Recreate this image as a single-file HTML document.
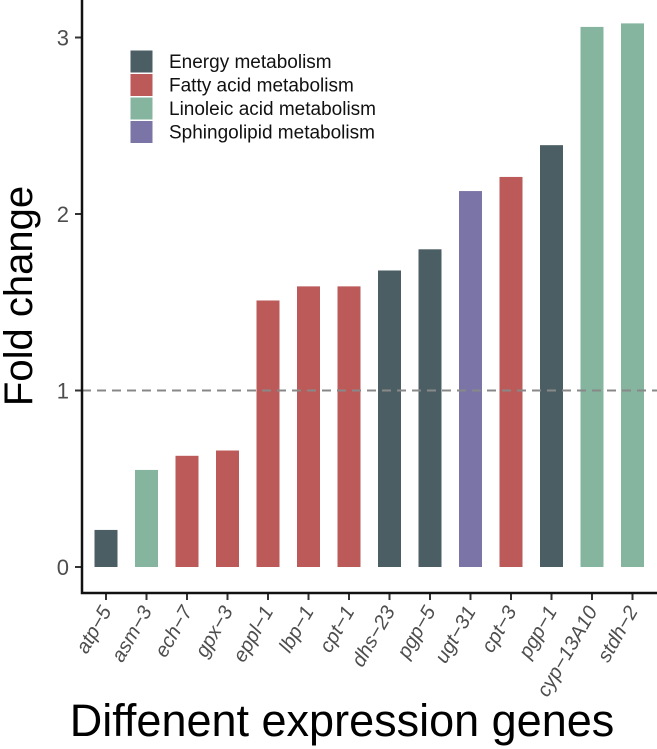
<!DOCTYPE html>
<html><head><meta charset="utf-8"><style>
body{margin:0;background:#fff}
svg{display:block;font-family:"Liberation Sans",sans-serif}
</style></head><body>
<svg id="chart" width="657" height="749"></svg>
<script>
const genes=["atp−5","asm−3","ech−7","gpx−3","eppl−1","lbp−1","cpt−1","dhs−23","pgp−5","ugt−31","cpt−3","pgp−1","cyp−13A10","stdh−2"];
const values=[0.21,0.55,0.63,0.66,1.51,1.59,1.59,1.68,1.80,2.13,2.21,2.39,3.06,3.08];
const groups=["Energy metabolism","Linoleic acid metabolism","Fatty acid metabolism","Fatty acid metabolism","Fatty acid metabolism","Fatty acid metabolism","Fatty acid metabolism","Energy metabolism","Energy metabolism","Sphingolipid metabolism","Fatty acid metabolism","Energy metabolism","Linoleic acid metabolism","Linoleic acid metabolism"];
const legendLabels=["Energy metabolism","Fatty acid metabolism","Linoleic acid metabolism","Sphingolipid metabolism"];
const yTicks=[0,1,2,3];
const colors={"Energy metabolism":"#4b5e64","Fatty acid metabolism":"#bb5a59","Linoleic acid metabolism":"#86b59f","Sphingolipid metabolism":"#7a75a6"};
const NS="http://www.w3.org/2000/svg";
const svg=document.getElementById('chart');
const y=v=>567-v*176.5;
const x=i=>106+i*40.5;
function mk(t,a,txt){const e=document.createElementNS(NS,t);for(const k in a)e.setAttribute(k,a[k]);if(txt!=null)e.textContent=txt;svg.appendChild(e);return e;}
values.forEach((v,i)=>{
 const r=mk('rect',{x:x(i)-11.5,y:y(v),width:23,height:y(0)-y(v),fill:colors[groups[i]]});
 
 
 const tk=mk('line',{x1:x(i),x2:x(i),y1:593,y2:600,stroke:'#333','stroke-width':2});
 
 
 const ax=x(i)+6, ay=611;
 const t=mk('text',{x:ax,y:ay,'text-anchor':'end','font-size':20,'font-style':'italic',fill:'#4d4d4d',transform:`rotate(-60 ${ax} ${ay})`},genes[i]);
 
 
});
const ref=mk('line',{x1:82,x2:657,y1:y(1),y2:y(1),stroke:'#888','stroke-width':2,'stroke-dasharray':'9,6'});


yTicks.forEach(v=>{
 const tk=mk('line',{x1:75,x2:82,y1:y(v),y2:y(v),stroke:'#333','stroke-width':2});
 
 
 const t=mk('text',{x:69,y:y(v)+8,'text-anchor':'end','font-size':22,fill:'#4d4d4d'},v);
 
 
});
const ax=mk('path',{d:'M82,0 V593 H657',fill:'none',stroke:'#111','stroke-width':2.5});


legendLabels.forEach((l,i)=>{
 const ry=50+i*23.5;
 const r=mk('rect',{x:130,y:ry,width:23,height:23,fill:colors[l],stroke:'#fff','stroke-width':1});
 
 
 const t=mk('text',{x:169,y:ry+18,'font-size':19,fill:'#111'},l);
 
 
});
const yt=mk('text',{x:32,y:296,'text-anchor':'middle','font-size':40,fill:'#000',transform:'rotate(-90 32 296)'},'Fold change');


const xt=mk('text',{x:342,y:736,'text-anchor':'middle','font-size':45,fill:'#000'},'Diffenent expression genes');


</script>
</body></html>
